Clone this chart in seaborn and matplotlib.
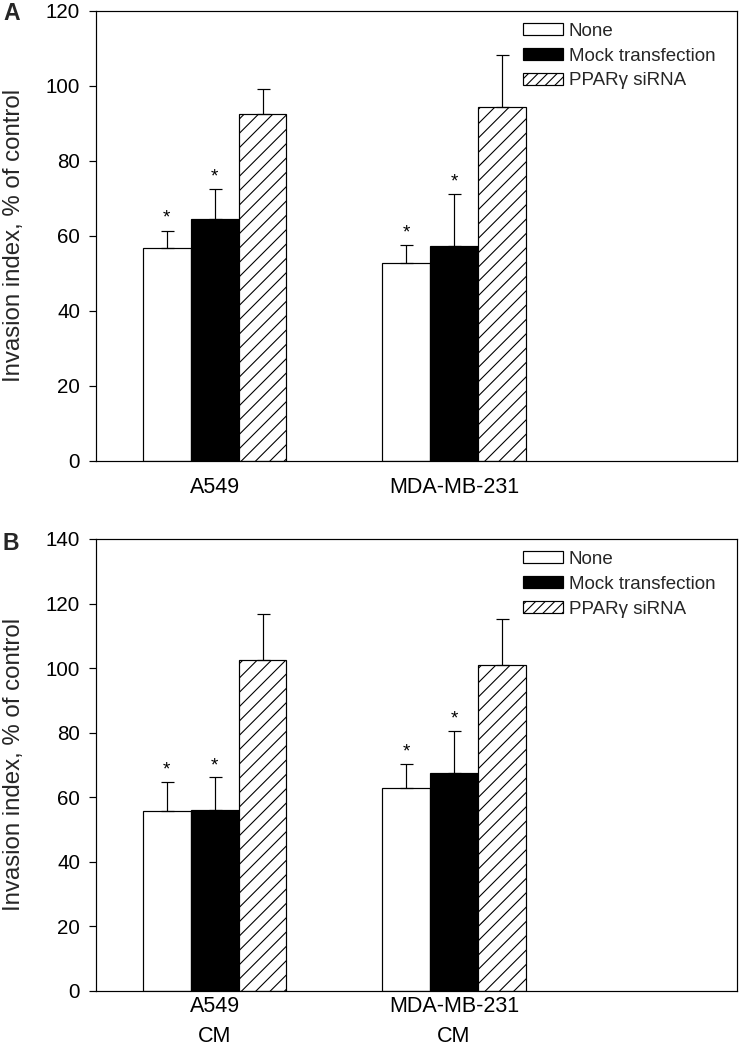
import matplotlib
matplotlib.use("Agg")
import matplotlib.pyplot as plt
import seaborn as sns
import pandas as pd
import numpy as np
from matplotlib.patches import Patch
from matplotlib.container import BarContainer

DPI = 86
W, H = 743, 1057


def P(px):
    """pixels -> points at the chosen dpi"""
    return px * 72.0 / DPI


sns.set_theme(style="white")
plt.rcParams['font.family'] = ['Liberation Sans', 'DejaVu Sans']
plt.rcParams['hatch.color'] = 'black'
plt.rcParams['hatch.linewidth'] = P(1.1)

conditions = ["None", "Mock transfection", "PPARγ siRNA"]

cells_a = ["A549", "MDA-MB-231"]
none_a = [56.7, 52.7]
mock_a = [64.6, 57.3]
sirna_a = [92.4, 94.3]
none_a_err = [4.7, 4.8]
mock_a_err = [7.9, 13.8]
sirna_a_err = [6.8, 13.9]

cells_b = ["A549\nCM", "MDA-MB-231\nCM"]
none_b = [55.7, 62.7]
mock_b = [55.9, 67.4]
sirna_b = [102.6, 100.8]
none_b_err = [9.1, 7.6]
mock_b_err = [10.2, 13.2]
sirna_b_err = [14.0, 14.5]

significant = [True, True, False]  # asterisk over None and Mock bars

fig = plt.figure(figsize=(W / DPI, H / DPI), dpi=DPI)
L, R = 96 / W, 737 / W
axA = fig.add_axes([L, 1 - 460.7 / H, R - L, (460.7 - 11) / H])
axB = fig.add_axes([L, 1 - 990.7 / H, R - L, (990.7 - 539) / H])

palette = {"None": "white", "Mock transfection": "black", "PPARγ siRNA": "white"}
LW = P(1.2)


def draw(ax, cells, vals, errs, ymax, letter, letter_y, xpad, lsp):
    df = pd.DataFrame({
        "cell": list(cells) * 3,
        "cond": [c for c in conditions for _ in cells],
        "val": [v for series in vals for v in series],
    })
    sns.barplot(data=df, x="cell", y="val", hue="cond", order=cells,
                hue_order=conditions, palette=palette, edgecolor="black",
                linewidth=LW, width=0.6, errorbar=None, ax=ax, legend=False,
                saturation=1)
    bar_conts = [c for c in ax.containers if isinstance(c, BarContainer)]
    for i, cont in enumerate(bar_conts):
        for j, bar in enumerate(cont.patches):
            bar.set_edgecolor("black")
            bar.set_linewidth(LW)
            if i == 2:
                bar.set_hatch("//")
            xc = bar.get_x() + bar.get_width() / 2
            h = bar.get_height()
            e = errs[i][j]
            ax.errorbar([xc], [h], yerr=[[0], [e]], fmt="none", ecolor="black",
                        elinewidth=LW, capsize=P(6.5), capthick=LW, zorder=3)
            if significant[i]:
                ax.text(xc, h + e + 1.0, "*", ha="center", va="bottom",
                        fontsize=P(19), color="black")
    ax.set_xlim(-0.496, 2.183)
    ax.set_ylim(0, ymax)
    ax.set_yticks(np.arange(0, ymax + 1, 20))
    ax.set_xlabel("")
    ax.set_ylabel("Invasion index, % of control", fontsize=P(24))
    ax.yaxis.set_label_coords(-0.111, 0.5)
    ax.tick_params(axis="y", direction="out", length=P(7), width=LW,
                   labelsize=P(20.5), left=True, pad=P(9), colors="black")
    ax.tick_params(axis="x", length=0, labelsize=P(21.5), pad=P(xpad),
                   colors="black")
    for lab in ax.get_xticklabels():
        lab.set_linespacing(lsp)
    for s in ax.spines.values():
        s.set_visible(True)
        s.set_color("black")
        s.set_linewidth(LW)
    handles = [Patch(facecolor="white", edgecolor="black", linewidth=LW),
               Patch(facecolor="black", edgecolor="black", linewidth=LW),
               Patch(facecolor="white", edgecolor="black", linewidth=LW, hatch="///")]
    em = 18.8
    ax.legend(handles, conditions, loc="upper left", bbox_to_anchor=(0.666, 0.974),
              frameon=False, fontsize=P(em), handlelength=40 / em,
              handleheight=10.5 / em, handletextpad=6 / em,
              labelspacing=0.42, borderaxespad=0, borderpad=0)
    fig.text(3 / W, 1 - letter_y / H, letter, fontsize=P(23), fontweight="bold",
             ha="left", va="center")


draw(axA, cells_a, [none_a, mock_a, sirna_a], [none_a_err, mock_a_err, sirna_a_err],
     120, "A", 13.5, 16, 1.2)
draw(axB, cells_b, [none_b, mock_b, sirna_b], [none_b_err, mock_b_err, sirna_b_err],
     140, "B", 544, 5, 1.55)

fig.savefig("out.png", dpi=DPI, facecolor="white")
